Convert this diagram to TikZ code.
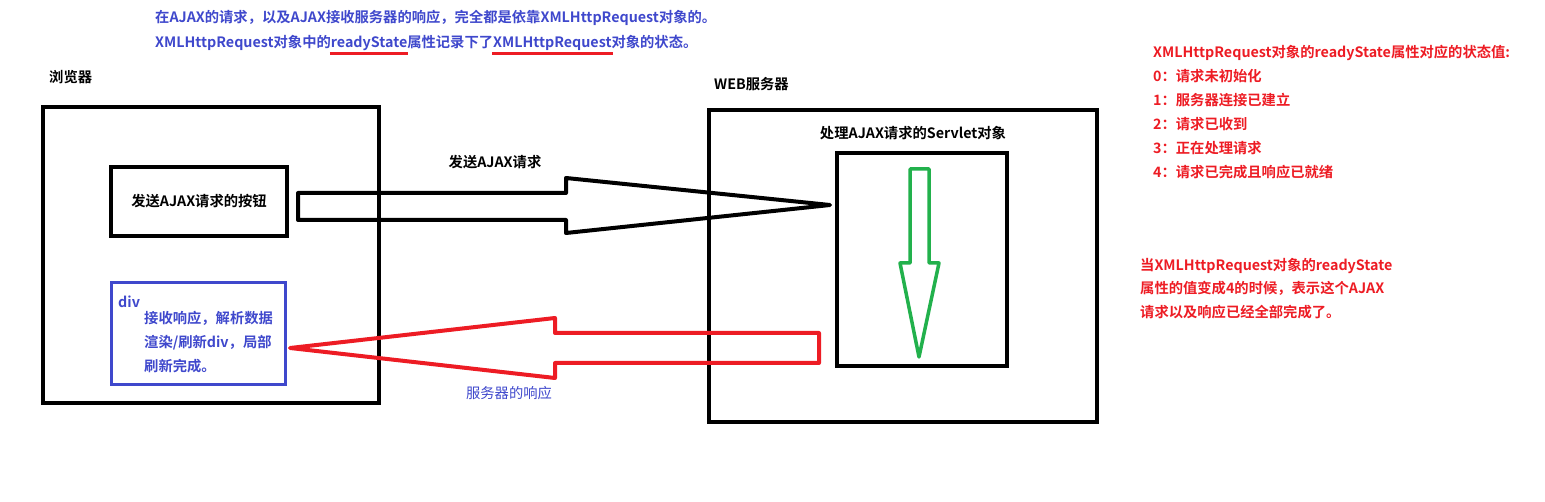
\documentclass[tikz,border=0pt]{standalone}
\usepackage{fontspec}
\setmainfont{Noto Sans CJK SC}[BoldFont={Noto Sans CJK SC Bold}]
\usetikzlibrary{positioning}
\definecolor{paintblue}{RGB}{63,72,204}
\definecolor{paintred}{RGB}{237,28,36}
\definecolor{paintgreen}{RGB}{34,177,76}
\newcommand\redul[1]{\setbox0\hbox{#1}\rlap{\color{paintred}\kern-1pt\rule[-7pt]{\dimexpr\wd0+2pt\relax}{3pt}}\box0}

\begin{document}
\begin{tikzpicture}[
        x = 1pt, y = -1pt,
        box/.style = {draw, line width=3.5pt, inner sep=0pt},
        txt/.style = {font=\fontsize{14.3}{24}\selectfont\bfseries, inner sep=0pt},
        blockarrow/.style = {line width=4pt, line join=round}
    ]
        \useasboundingbox (0,0) rectangle (1545,502);
        \node [txt, text=paintblue, anchor=north west, align=left, font=\fontsize{14.3}{25}\selectfont\bfseries] (intro) at (155,10)
            {在AJAX的请求，以及AJAX接收服务器的响应，完全都是依靠XMLHttpRequest对象的。\\
             XMLHttpRequest对象中的\redul{readyState}属性记录下了\redul{XMLHttpRequest}对象的状态。};
        \node [txt, anchor=west] (browsertitle) at (49,77) {浏览器};
        \node [box, minimum width=336, minimum height=296] (browser) at (211,255) {};
        \node [box, minimum width=176, minimum height=69, txt] (btn) at (199,201.5) {发送AJAX请求的按钮};
        \node [box, draw=paintblue, line width=3pt, minimum width=174, minimum height=102] (divbox) at (198,334) {};
        \node [txt, text=paintblue, anchor=west] (divname) at (118,302) {div};
        \node [txt, text=paintblue, anchor=north west, align=left] (divtext) at (144,311)
            {接收响应，解析数据\\渲染/刷新div，局部\\刷新完成。};
        \node [txt, anchor=west] (servertitle) at (714,84) {WEB服务器};
        \node [box, minimum width=388, minimum height=312] (server) at (903,266) {};
        \node [txt] (servlettitle) at (913,133) {处理AJAX请求的Servlet对象};
        \node [box, minimum width=170, minimum height=213] (servlet) at (922,259.5) {};
        \node [txt] (reqlabel) at (495,162) {发送AJAX请求};
        \node [txt, font=\fontsize{14.3}{24}\selectfont, text=paintblue] (resplabel) at (509,393) {服务器的响应};
        \draw [blockarrow] (298,193) -- (566,193) -- (566,178) -- (830,205) -- (566,233) -- (566,220) -- (298,220) -- cycle;
        \draw [blockarrow, paintred] (819,333) -- (555,333) -- (555,318) -- (290,348) -- (555,378) -- (555,363) -- (819,363) -- cycle;
        \draw [blockarrow, line width=3.5pt, paintgreen] (910,169) -- (929,169) -- (929,263) -- (939,263) -- (919,357) -- (900,263) -- (910,263) -- cycle;
        \node [txt, text=paintred, anchor=north west, align=left] (states) at (1153,45)
            {XMLHttpRequest对象的readyState属性对应的状态值:\\
             0：请求未初始化\\
             1：服务器连接已建立\\
             2：请求已收到\\
             3：正在处理请求\\
             4：请求已完成且响应已就绪};
        \node [txt, text=paintred, anchor=north west, align=left, font=\fontsize{14.3}{23.5}\selectfont\bfseries] (note) at (1140,258)
            {当XMLHttpRequest对象的readyState\\
             属性的值变成4的时候，表示这个AJAX\\
             请求以及响应已经全部完成了。};
\end{tikzpicture}
\end{document}
